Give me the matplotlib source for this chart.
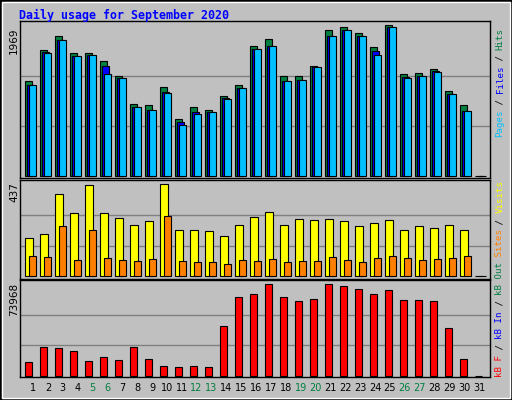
import matplotlib
matplotlib.use("Agg")
import matplotlib.pyplot as plt
from matplotlib.patches import Rectangle
import matplotlib.transforms as mtransforms

days = list(range(1, 32))
hits = [1244,1647,1835,1607,1607,1499,1311,935,922,1164,747,895,868,1043,1190,1700,1795,1311,1311,1432,1902,1942,1862,1687,1969,1333,1347,1400,1109,922,0]
files = [1190,1620,1781,1566,1580,1432,1284,908,868,1096,707,841,841,1016,1150,1660,1700,1244,1257,1419,1835,1902,1835,1633,1942,1298,1311,1378,1070,855,0]
pages = [1190,1607,1781,1566,1580,1338,1284,908,868,1083,667,814,841,1002,1150,1660,1700,1244,1257,1419,1835,1902,1835,1580,1942,1284,1311,1365,1070,855,0]
visits = [180,199,389,299,432,299,275,242,261,437,218,218,214,190,242,280,304,242,271,266,271,261,237,252,266,218,237,228,242,218,0]
sites = [97,90,237,76,218,85,76,71,81,285,71,66,66,57,76,71,81,66,71,71,90,76,66,85,97,85,76,81,85,97,0]
kbytes = [10760,22865,22058,19637,11567,14795,12374,22865,13181,7532,6725,7532,6725,39812,63215,65636,73968,63215,59987,61601,73968,72090,69669,65636,68864,60794,60794,59987,38198,13181,0]
weekends = [5, 6, 12, 13, 19, 20, 26, 27]

BG = "#C0C0C0"
W, H = 512, 400
fig = plt.figure(figsize=(W/100, H/100), dpi=100, facecolor=BG)

def axes_px(x0, y0, x1, y1):
    return fig.add_axes([x0/W, 1-y1/H, (x1-x0)/W, (y1-y0)/H])

def setup(ax, ymin, ymax, grids):
    ax.set_facecolor(BG)
    ax.set_xlim(0.5, 0.5 + 470/15)
    ax.set_ylim(ymin, ymax)
    ax.set_xticks([]); ax.set_yticks([])
    for g in grids:
        ax.axhline(g, color="#808080", lw=1, zorder=0)
    for s in ax.spines.values():
        s.set_color("black"); s.set_linewidth(1)

w = 7/15
ax1 = axes_px(20, 21, 490, 178)
setup(ax1, -26, 2025, [1969/3, 1969*2/3])
x = [d - 0.147 for d in days]
kw = dict(width=w, align="edge", edgecolor="black", linewidth=0.8)
ax1.bar(x, hits, color="#008040", **kw)
ax1.bar([v + 2/15 for v in x], files, color="#0000FF", **kw)
ax1.bar([v + 4/15 for v in x], pages, color="#00C0FF", **kw)

ax2 = axes_px(20, 180, 490, 279)
setup(ax2, -12.8, 457.4, [437/3, 437*2/3])
ax2.bar(x, visits, color="#FFFF00", width=8/15, align="edge", edgecolor="black", linewidth=0.8)
ax2.bar([v + 4/15 for v in x], sites, color="#FF8000", **kw)

ax3 = axes_px(20, 280, 490, 377)
setup(ax3, -1049, 77195, [73968/3, 73968*2/3])
ax3.bar(x, kbytes, color="#FF0000", **kw)

trans = mtransforms.blended_transform_factory(ax3.transData, fig.transFigure)
for d in days:
    ax3.text(d + 0.37 - (d-1)*0.009, 1-388/H, str(d), transform=trans, ha="center", va="center",
             fontsize=7, color="#008040" if d in weekends else "black", family="DejaVu Sans")

fig.text(19/W, 1-15/H, "Daily usage for September 2020", color="#0000FF", fontsize=8.4,
         fontweight="bold", family="DejaVu Sans Mono", ha="left", va="center")

for lab, ytop in [("1969", 27), ("437", 182), ("73968", 283)]:
    fig.text(14/W, 1-ytop/H, lab, rotation=90, ha="center", va="top", fontsize=7.5, family="DejaVu Sans")

def vstack(parts, ybottom, xpx=500):
    y = ybottom
    ch = 5.45
    for txt, col in parts:
        fig.text(xpx/W, 1-y/H, txt, rotation=90, ha="center", va="bottom", color=col,
                 fontsize=6.6, family="DejaVu Sans Mono")
        y -= ch * len(txt)

vstack([("Pages", "#00C0FF"), (" / ", "#000000"), ("Files", "#0000FF"), (" / ", "#000000"), ("Hits", "#008040")], 137)
vstack([("kB F", "#FF0000"), (" / ", "#000000"), ("kB In", "#0000FF"), (" / ", "#000000"), ("kB Out", "#008040"),
        (" Sites", "#FF8000"), (" / ", "#000000"), ("Visits", "#FFFF00")], 376.7)

fig.patches.append(Rectangle((0, 0), 1, 1, transform=fig.transFigure, fill=False, edgecolor="black", lw=2))
fig.patches.append(Rectangle((2/W, 2/H), 1-4/W, 1-4/H, transform=fig.transFigure, fill=False, edgecolor="white", lw=1))
fig.savefig("out.png", dpi=100, facecolor=BG)
